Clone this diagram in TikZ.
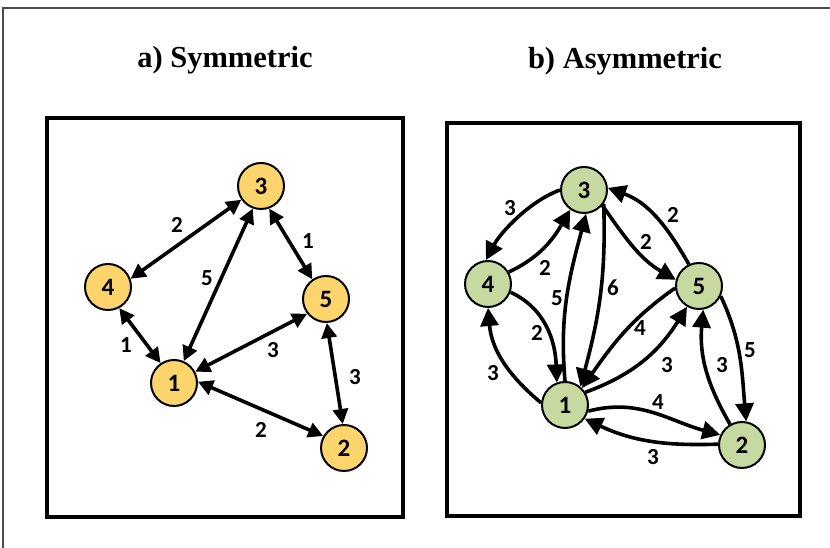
\documentclass[tikz,border=0pt]{standalone}
\usepackage{fontspec}
\setmainfont{Liberation Serif}
\newfontfamily\numfont{Carlito}
\usetikzlibrary{arrows.meta}
\definecolor{nodeyellow}{HTML}{FDD56C}
\definecolor{nodegreen}{HTML}{C5D9A0}
\begin{document}
\begin{tikzpicture}[x=1pt,y=1pt,
  vert/.style={circle,draw,line width=2pt,minimum size=46pt,inner sep=0pt,
    font=\numfont\bfseries\fontsize{25}{25}\selectfont},
  ya/.style={vert,fill=nodeyellow},
  gb/.style={vert,fill=nodegreen},
  wlabel/.style={font=\numfont\bfseries\fontsize{23}{23}\selectfont,inner sep=0pt},
  bidir/.style={line width=3.6pt,{Triangle[length=15pt,width=15pt]}-{Triangle[length=15pt,width=15pt]}},
  uni/.style={line width=3.6pt,-{Triangle[length=18pt,width=18pt]}},
  panel/.style={line width=4pt},
  title/.style={font=\bfseries\fontsize{30.5}{30.5}\selectfont,inner sep=0pt,anchor=base}
]
\useasboundingbox (0,0) rectangle (830,548);
% outer frame
\draw[gray!60!black,line width=1.2pt] (3,0) -- (3,540) -- (830,540);

% titles
\node[title] (ta) at (225,480) {a) Symmetric};
\node[title] (tb) at (625,479) {b) Asymmetric};

% panels
\draw[panel] (47,31) rectangle (403,430);
\draw[panel] (447,32) rectangle (800,425);

% panel a nodes
\node[ya] (a3) at (261,362) {3};
\node[ya] (a4) at (108,261) {4};
\node[ya] (a5) at (326,249) {5};
\node[ya] (a1) at (174,165) {1};
\node[ya] (a2) at (344,100) {2};

% panel a edges
\draw[bidir] (a3.215) -- (a4.20);
\draw[bidir] (a3.250) -- (a1.66);
\draw[bidir] (a3.290) -- (a5.125);
\draw[bidir] (a4.-62) -- (a1.124);
\draw[bidir] (a1.28) -- (a5.218);
\draw[bidir] (a5.272) -- (a2.93);
\draw[bidir] (a1.3) -- (a2.150);

% panel a labels
\node[wlabel] (la34) at (177,323) {2};
\node[wlabel] (la35) at (308,307) {1};
\node[wlabel] (la31) at (207,270) {5};
\node[wlabel] (la41) at (126,203) {1};
\node[wlabel] (la15) at (273,198) {3};
\node[wlabel] (la52) at (355,171) {3};
\node[wlabel] (la12) at (261,118) {2};

% panel b nodes
\node[gb] (b3) at (584,358) {3};
\node[gb] (b4) at (488,264) {4};
\node[gb] (b5) at (699,262) {5};
\node[gb] (b1) at (565,143) {1};
\node[gb] (b2) at (742,103) {2};

% panel b edges
\draw[uni] (b3.180) to[out=200,in=62,looseness=0.8] (b4.95);
\draw[uni] (b4.30) to[out=25,in=240] (b3.235);
\draw[uni] (b1.90) to[out=95,in=255] (b3.275);
\draw[uni] (b3.-35) to[out=-88,in=75] (b1.50);
\draw[uni] (b4.-20) to[out=-25,in=92] (b1.110);
\draw[uni] (b1.175) to[out=140,in=275] (b4.270);
\draw[uni] (b3.-40) to[out=-55,in=150] (b5.165);
\draw[uni] (b5.115) to[out=120,in=-20] (b3.5);
\draw[uni] (b5.185) to[out=215,in=55] (b1.45);
\draw[uni] (b1.32) to[out=20,in=238] (b5.240);
\draw[uni] (b5.-25) to[out=-65,in=95] (b2.80);
\draw[uni] (b2.120) to[out=120,in=265] (b5.280);
\draw[uni] (b1.-15) to[out=15,in=165] (b2.155);
\draw[uni] (b2.178) to[out=182,in=-25] (b1.-35);

% panel b labels
\node[wlabel] (lb34) at (510,340) {3};
\node[wlabel] (lb53) at (673,333) {2};
\node[wlabel] (lb35) at (646,306) {2};
\node[wlabel] (lb43) at (545,280) {2};
\node[wlabel] (lb13) at (557,250) {5};
\node[wlabel] (lb31) at (613,260) {6};
\node[wlabel] (lb41) at (537,215) {2};
\node[wlabel] (lb51) at (640,220) {4};
\node[wlabel] (lb52) at (750,198) {5};
\node[wlabel] (lb14) at (493,175) {3};
\node[wlabel] (lb15) at (667,183) {3};
\node[wlabel] (lb25) at (722,183) {3};
\node[wlabel] (lb12) at (658,146) {4};
\node[wlabel] (lb21) at (653,91) {3};
\end{tikzpicture}
\end{document}
